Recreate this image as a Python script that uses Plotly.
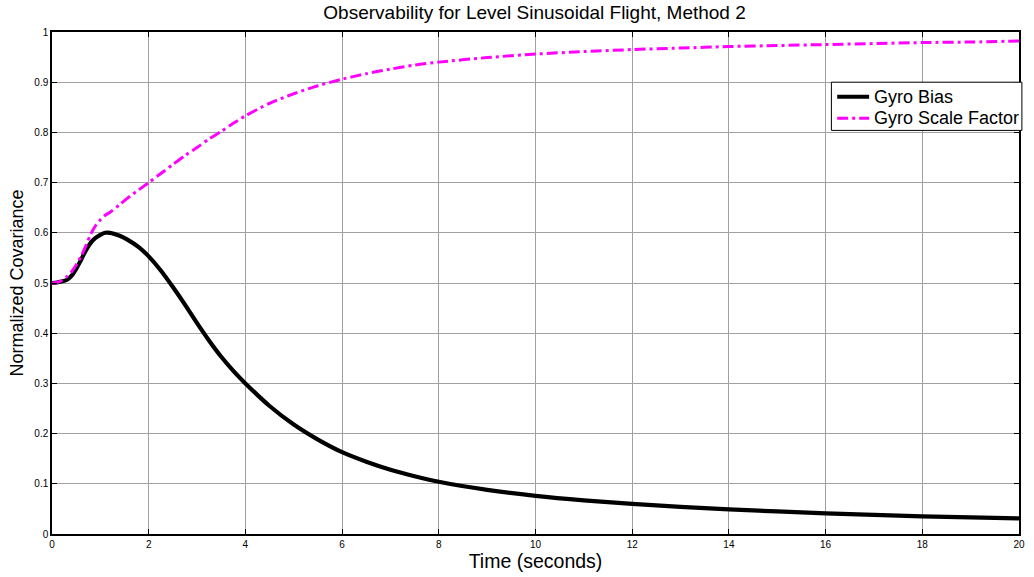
import plotly.graph_objects as go

# Time samples (seconds)
t = [0, 0.1, 0.2, 0.3, 0.4, 0.5, 0.6, 0.7, 0.8, 0.9, 1.0, 1.1, 1.2, 1.4, 1.55,
     1.8, 2.0, 2.25, 2.5, 2.75, 3.0, 3.25, 3.5, 3.75, 4.0, 4.5, 5.0, 5.5, 6.0, 6.5,
     7.0, 7.5, 8.0, 9.0, 10.0, 11.0, 12.0, 13.0, 14.0, 15.0, 16.0, 17.0, 18.0,
     19.0, 20.0]

# Normalized covariance of the gyro bias state
gyro_bias = [0.5, 0.501, 0.503, 0.506, 0.514, 0.528, 0.546, 0.565, 0.58, 0.59,
             0.596, 0.6, 0.6, 0.594, 0.587, 0.571, 0.553, 0.525, 0.492,
             0.457, 0.42, 0.385, 0.353, 0.325, 0.3, 0.255, 0.218, 0.188, 0.163,
             0.144, 0.128, 0.115, 0.104, 0.088, 0.076, 0.067, 0.06, 0.054, 0.049,
             0.045, 0.041, 0.038, 0.035, 0.033, 0.031]

# Normalized covariance of the gyro scale factor state
gyro_scale = [0.5, 0.501, 0.505, 0.512, 0.522, 0.536, 0.553, 0.574, 0.597, 0.614,
              0.626, 0.635, 0.641, 0.656, 0.668, 0.686, 0.7, 0.718, 0.736,
              0.754, 0.77, 0.787, 0.802, 0.818, 0.833, 0.858, 0.877, 0.893, 0.906,
              0.917, 0.926, 0.934, 0.94, 0.949, 0.956, 0.961, 0.965, 0.968, 0.971,
              0.973, 0.975, 0.977, 0.979, 0.98, 0.982]

series_names = ["Gyro Bias", "Gyro Scale Factor"]
x_ticks = list(range(0, 21, 2))
y_ticks = [round(0.1 * i, 1) for i in range(11)]
y_tick_text = ["0", "0.1", "0.2", "0.3", "0.4", "0.5", "0.6", "0.7", "0.8", "0.9", "1"]

BIAS_LINE = dict(color="black", width=4.2)
SCALE_LINE = dict(color="#ff00ff", width=3, dash="11px,4px,3px,4px")

fig = go.Figure()
fig.add_trace(go.Scatter(
    x=t, y=gyro_bias, mode="lines", name=series_names[0], showlegend=False,
    line=dict(**BIAS_LINE, shape="spline", smoothing=0.8),
))
fig.add_trace(go.Scatter(
    x=t, y=gyro_scale, mode="lines", name=series_names[1], showlegend=False,
    line=dict(**SCALE_LINE, shape="spline", smoothing=0.8),
))

axis_common = dict(
    showline=True, linecolor="black", linewidth=1.5, mirror="ticks",
    ticks="inside", ticklen=5, tickcolor="black",
    showgrid=True, gridcolor="#a0a0a0", gridwidth=1, zeroline=False,
    tickfont=dict(family="Arial, Liberation Sans, sans-serif", size=10, color="black"),
)

# Legend box, drawn in plot-area (paper) coordinates, MATLAB style
lx0, lx1 = 0.806, 1.003
ly0, ly1 = 0.804, 0.9
fig.add_shape(type="rect", xref="paper", yref="paper", x0=lx0, x1=lx1, y0=ly0, y1=ly1,
              line=dict(color="black", width=1), fillcolor="white", layer="above")
row_y = [0.871, 0.828]
styles = [BIAS_LINE, SCALE_LINE]
for name, yy, st in zip(series_names, row_y, styles):
    fig.add_shape(type="line", xref="paper", yref="paper", x0=0.812, x1=0.845,
                  y0=yy, y1=yy, line=st, layer="above")
    fig.add_annotation(text=name, xref="paper", yref="paper", x=0.848, y=yy,
                       xanchor="left", yanchor="middle", showarrow=False,
                       font=dict(size=18, color="black"))

fig.update_layout(
    width=1034, height=577,
    margin=dict(l=52, r=9, t=32, b=43),
    paper_bgcolor="white", plot_bgcolor="white",
    font=dict(family="Arial, Liberation Sans, sans-serif", color="black"),
    title=dict(text="Observability for Level Sinusoidal Flight, Method 2",
               x=0.517, xanchor="center", y=0.978, yanchor="middle",
               font=dict(size=19)),
    xaxis=dict(range=[0, 20], tickvals=x_ticks,
               title=dict(text="Time (seconds)", font=dict(size=19.5), standoff=2),
               **axis_common),
    yaxis=dict(range=[0, 1], tickvals=y_ticks, ticktext=y_tick_text,
               title=dict(text="Normalized Covariance", font=dict(size=18), standoff=6),
               **axis_common),
    showlegend=False,
)

fig.write_html("out.html")
